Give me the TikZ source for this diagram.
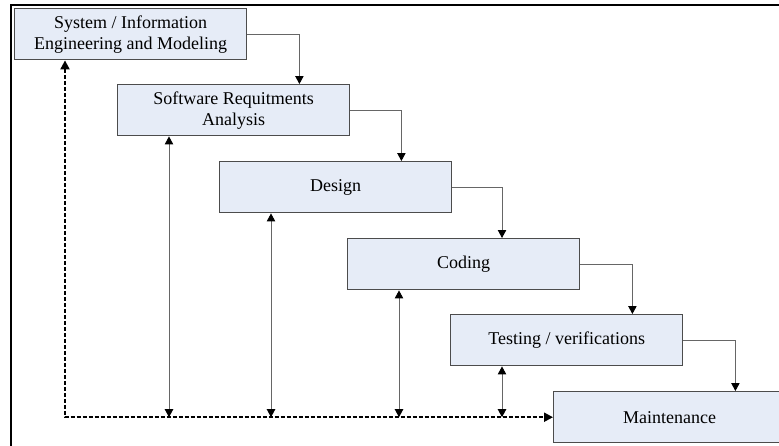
\documentclass[tikz,border=0pt]{standalone}
\usepackage{fontspec}
\setmainfont{Liberation Serif}
\usetikzlibrary{arrows.meta, calc}
\definecolor{phasefill}{RGB}{230,236,247}

\begin{document}
\begin{tikzpicture}[
        x=0.5pt, y=-0.5pt,
        phase/.style = {draw=black!70, line width=0.7pt, fill=phasefill, minimum width=116pt, minimum height=25.5pt, inner sep=0pt, align=center, anchor=north west, font=\fontsize{9}{10.5}\selectfont},
        flow/.style = {draw=black!60, line width=0.45pt, -{Triangle[length=4pt, width=4.2pt, color=black]}},
        back/.style = {draw=black!60, line width=0.45pt, {Triangle[length=4pt, width=4.2pt, color=black]}-{Triangle[length=4pt, width=4.2pt, color=black]}},
        feedback/.style = {black, line width=1pt, dash pattern=on 2pt off 1pt, {Triangle[length=4.5pt, width=4.5pt]}-{Triangle[length=4.5pt, width=4.5pt]}},
    ]
        \clip (0,0) rectangle (779,445);
        \draw[line width=1pt] (11,450) |- (785,5);

        \node[phase] (sys) at (14,8) {System / Information\\Engineering and Modeling};
        \node[phase] (req) at (117,84) {Software Requitments\\Analysis};
        \node[phase] (des) at (219,161) {Design};
        \node[phase] (cod) at (347,238) {Coding};
        \node[phase] (tst) at (450,314) {Testing / verifications};
        \node[phase] (mnt) at (553,391) {Maintenance};

        % waterfall steps
        \draw[flow] (sys.east) -| ([xshift=-25.5pt]req.north east);
        \draw[flow] (req.east) -| ([xshift=-25.5pt]des.north east);
        \draw[flow] (des.east) -| ([xshift=77.5pt]cod.north west);
        \draw[flow] (cod.east) -| ([xshift=-25.5pt]tst.north east);
        \draw[flow] (tst.east) -| ([xshift=-25.5pt]mnt.north east);

        % links back from the baseline
        \foreach \n in {req,des,cod,tst}
            \draw[back] ($(\n.south west)+(26pt,0)$) coordinate (b) -- (b |- mnt.west);
        \draw[feedback] ($(sys.south west)+(25.5pt,0)$) |- (mnt.west);
    \end{tikzpicture}
\end{document}
